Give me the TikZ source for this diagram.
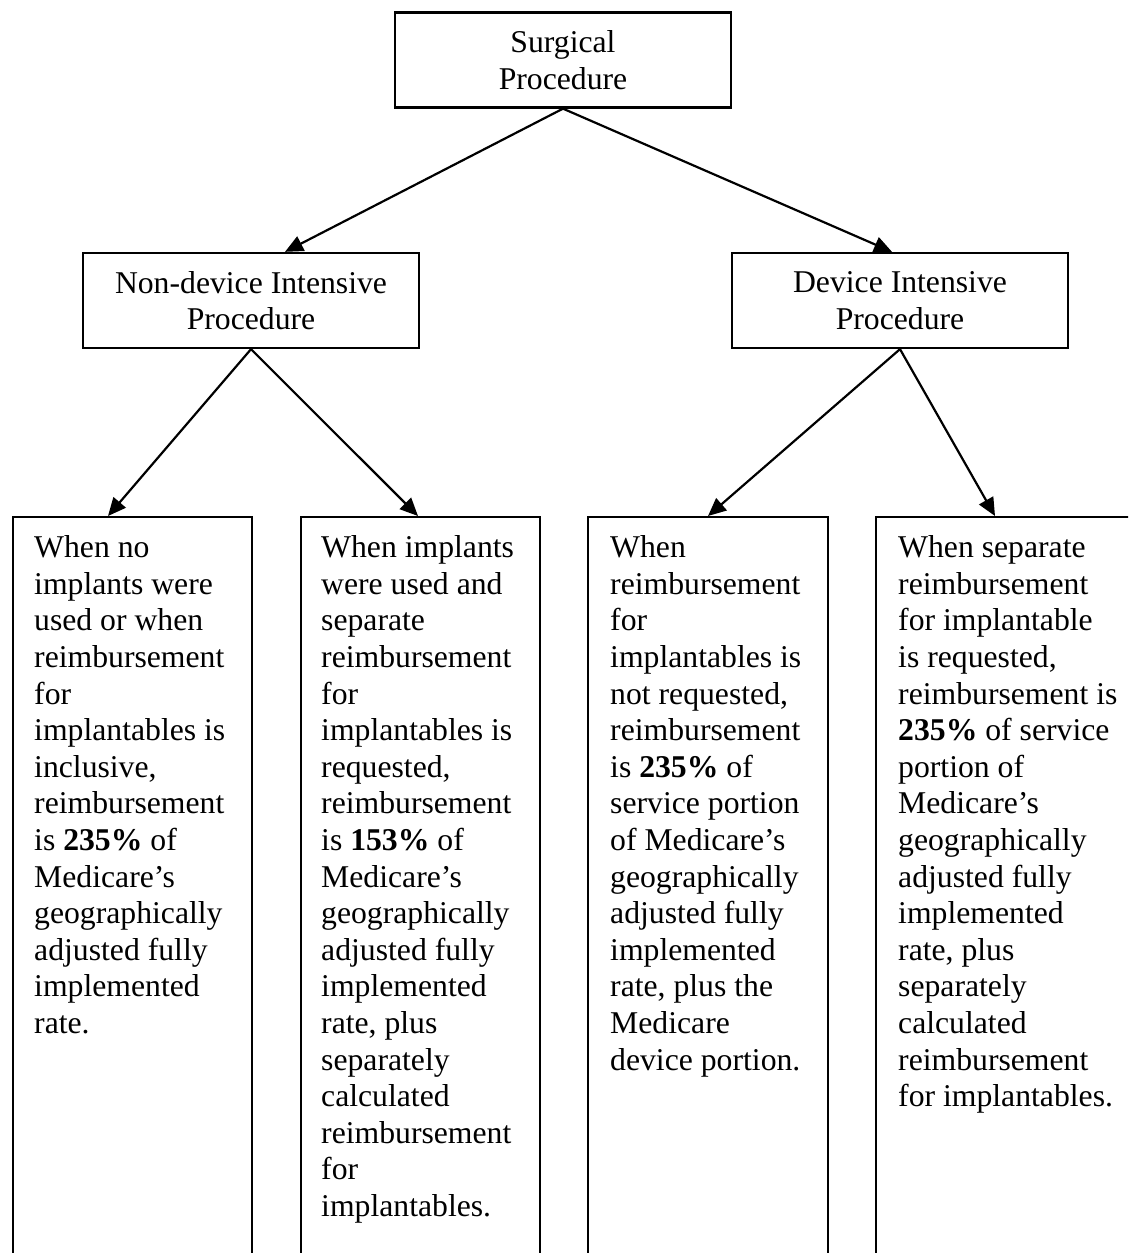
\documentclass[tikz,border=0pt]{standalone}
\usepackage{fontspec}
\setmainfont{Liberation Serif}
\usetikzlibrary{arrows.meta}
\begin{document}
\begin{tikzpicture}[x=1pt,y=-1pt,
  every node/.style={inner sep=0pt},
  txt/.style={font=\fontsize{31.7}{36.6}\selectfont},
  hbox/.style={draw, line width=2.3pt, minimum width=336pt, minimum height=95pt, align=center, txt},
  col/.style={draw, line width=2.3pt, anchor=north west, minimum height=780pt},
  coltext/.style={anchor=north west, align=left, txt},
  arr/.style={line width=2.2pt, -{Triangle[length=18pt,width=16pt]}}]
\useasboundingbox (0,0) rectangle (1128,1253);
\clip (0,0) rectangle (1128,1253);
\fill[white] (0,0) rectangle (1128,1253);

\node[hbox] (top) at (563,60) {Surgical\\Procedure};
\node[hbox] (lm) at (251,300.5) {Non-device Intensive\\Procedure};
\node[hbox] (rm) at (900,300.5) {Device Intensive\\Procedure};

\node[col, minimum width=239pt] (b1) at (12,516) {};
\node[col, minimum width=239pt] (b2) at (300,516) {};
\node[col, minimum width=240pt] (b3) at (587,516) {};
\node[col, minimum width=270pt] (b4) at (875,516) {};

\node[coltext] (t1) at (34,535.5) {When no\\implants were\\used or when\\reimbursement\\for\\implantables is\\inclusive,\\reimbursement\\is \textbf{235\%} of\\Medicare’s\\geographically\\adjusted fully\\implemented\\rate.};
\node[coltext] (t2) at (321,535.5) {When implants\\were used and\\separate\\reimbursement\\for\\implantables is\\requested,\\reimbursement\\is \textbf{153\%} of\\Medicare’s\\geographically\\adjusted fully\\implemented\\rate, plus\\separately\\calculated\\reimbursement\\for\\implantables.};
\node[coltext] (t3) at (610,535.5) {When\\reimbursement\\for\\implantables is\\not requested,\\reimbursement\\is \textbf{235\%} of\\service portion\\of Medicare’s\\geographically\\adjusted fully\\implemented\\rate, plus the\\Medicare\\device portion.};
\node[coltext] (t4) at (898,535.5) {When separate\\reimbursement\\for implantable\\is requested,\\reimbursement is\\\textbf{235\%} of service\\portion of\\Medicare’s\\geographically\\adjusted fully\\implemented\\rate, plus\\separately\\calculated\\reimbursement\\for implantables.};

\draw[arr] (top.south) -- ([xshift=34pt]lm.north);
\draw[arr] (top.south) -- ([xshift=-8pt]rm.north);
\draw[arr] (lm.south) -- ([xshift=96pt]b1.north west);
\draw[arr] (lm.south) -- ([xshift=118pt]b2.north west);
\draw[arr] (rm.south) -- ([xshift=121pt]b3.north west);
\draw[arr] (rm.south) -- ([xshift=120pt]b4.north west);
\end{tikzpicture}
\end{document}
